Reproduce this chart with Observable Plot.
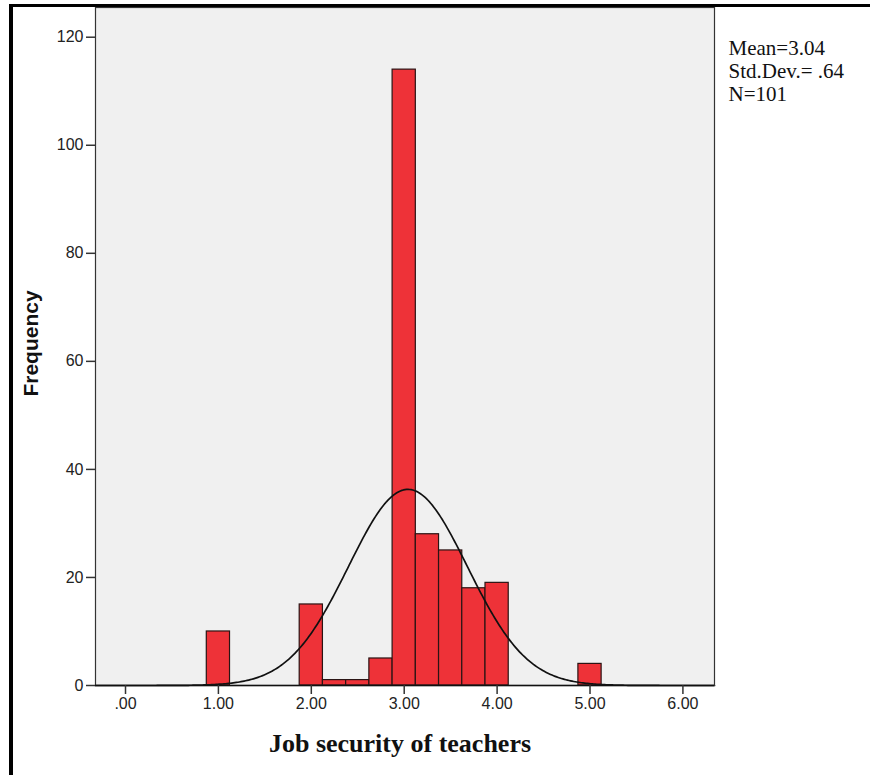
<!DOCTYPE html>
<html>
<head>
<meta charset="utf-8">
<script src="https://cdn.jsdelivr.net/npm/d3@7"></script>
<script src="https://cdn.jsdelivr.net/npm/@observablehq/plot@0.6"></script>
<style>
  html, body { margin: 0; padding: 0; background: #fff; }
  #wrap { position: relative; width: 870px; height: 775px; overflow: hidden; }
  #border { position: absolute; left: 9px; top: 4px; right: -10px; bottom: -10px;
            border-top: 3.5px solid #000; border-left: 4px solid #000; pointer-events: none; }
</style>
</head>
<body>
<div id="wrap"><div id="chart"></div><div id="border"></div></div>
<script>
// ---- data ----
const binCenters = [1.00, 2.00, 2.25, 2.50, 2.75, 3.00, 3.25, 3.50, 3.75, 4.00, 5.00];
const frequencies = [10, 15, 1, 1, 5, 114, 28, 25, 18, 19, 4];
const binWidth = 0.25;
const xTicks = [0, 1, 2, 3, 4, 5, 6];
const xTickLabels = [".00", "1.00", "2.00", "3.00", "4.00", "5.00", "6.00"];
const yTicks = [0, 20, 40, 60, 80, 100, 120];
const statsLines = ["Mean=3.04", "Std.Dev.= .64", "N=101"];
const curveMean = 3.04;
const curveSD = 0.64;
const curvePeak = 36.3;
const xTitle = "Job security of teachers";
const yTitle = "Frequency";

const bars = binCenters.map((c, i) => ({x1: c - binWidth / 2, x2: c + binWidth / 2, y: frequencies[i]}));
const xDomain = [-0.323, 6.34];
const curve = d3.range(0, 401).map(i => {
  const x = xDomain[0] + (xDomain[1] - xDomain[0]) * i / 400;
  return {x, y: curvePeak * Math.exp(-((x - curveMean) ** 2) / (2 * curveSD ** 2))};
});

const sans = "'Liberation Sans', Arial, sans-serif";
const serif = "'Liberation Serif', 'Times New Roman', serif";

const chart = Plot.plot({
  width: 870,
  height: 775,
  marginLeft: 95,
  marginRight: 156,
  marginTop: 7,
  marginBottom: 90,
  style: {background: "#fff", fontFamily: sans},
  x: {domain: xDomain},
  y: {domain: [0, 125.5]},
  marks: [
    Plot.frame({fill: "#f0f0f0", stroke: "none"}),
    Plot.rectY(bars, {x1: "x1", x2: "x2", y: "y", fill: "#ee3238", stroke: "#2a1414", strokeWidth: 1.2, inset: 0}),
    Plot.line(curve, {x: "x", y: "y", stroke: "#111", strokeWidth: 1.7, curve: "linear"}),
    Plot.frame({stroke: "#333", strokeWidth: 1.2}),
    Plot.ruleY([0], {stroke: "#111", strokeWidth: 1.5}),
    Plot.axisY({ticks: yTicks, tickSize: 9, tickPadding: 3, fontSize: 16, fill: "#222", stroke: "#333",
                strokeWidth: 1.5, label: null, tickFormat: d => String(d)}),
    Plot.axisX({ticks: xTicks, tickSize: 9, tickPadding: 3, fontSize: 16, fill: "#222", stroke: "#333",
                strokeWidth: 1.5, label: null, tickFormat: d => xTickLabels[xTicks.indexOf(d)]}),
    Plot.text([yTitle], {frameAnchor: "left", dx: -64, dy: -3, rotate: -90, text: d => d,
                fontSize: 21, fontWeight: "bold", fontFamily: sans, fill: "#111",
                textAnchor: "middle", lineAnchor: "middle"}),
    Plot.text([xTitle], {frameAnchor: "bottom", dx: -5, dy: 58, text: d => d,
                fontSize: 26, fontWeight: "bold", fontFamily: serif, fill: "#111",
                textAnchor: "middle", lineAnchor: "middle"}),
    Plot.text([statsLines.join("\n")], {frameAnchor: "top-right", dx: 14, dy: 31, text: d => d,
                fontSize: 21, fontFamily: serif, fill: "#111", textAnchor: "start",
                lineAnchor: "top", lineHeight: 1.1})
  ]
});
document.getElementById("chart").appendChild(chart);
</script>
</body>
</html>
